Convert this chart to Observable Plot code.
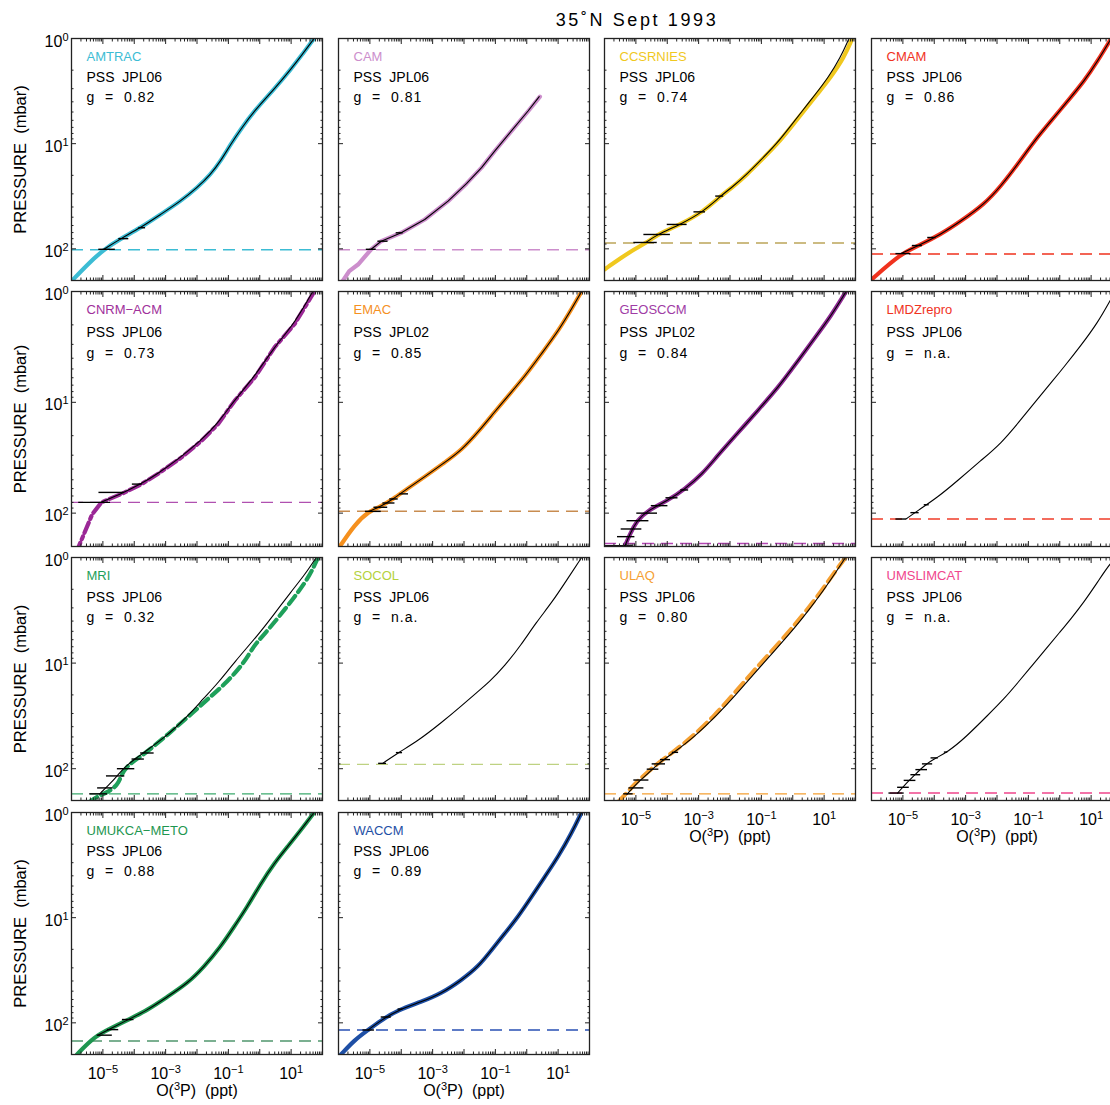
<!DOCTYPE html>
<html><head><meta charset="utf-8">
<script src="https://cdn.jsdelivr.net/npm/d3@7"></script>
<script src="https://cdn.jsdelivr.net/npm/@observablehq/plot@0.6"></script>
<style>
html,body{margin:0;padding:0;background:#fff;overflow:hidden;}
#root{position:relative;width:1110px;height:1105px;overflow:hidden;font-family:"Liberation Sans",Arial,sans-serif;background:#fff;}
#title{position:absolute;left:487px;top:10px;width:300px;text-align:center;font-size:18px;line-height:20px;letter-spacing:2.6px;white-space:nowrap;}
</style></head><body><div id="root"><div id="title">35˚N Sept 1993</div></div>
<script>
// ---------- data: [pressure (mbar), O(3P) (ppt)] ----------
const models = ["AMTRAC","CAM","CCSRNIES","CMAM","CNRM\u2212ACM","EMAC","GEOSCCM","LMDZrepro","MRI","SOCOL","ULAQ","UMSLIMCAT","UMUKCA\u2212METO","WACCM"];
const jplLabels = ["PSS  JPL06","PSS  JPL06","PSS  JPL06","PSS  JPL06","PSS  JPL06","PSS  JPL02","PSS  JPL02","PSS  JPL06","PSS  JPL06","PSS  JPL06","PSS  JPL06","PSS  JPL06","PSS  JPL06","PSS  JPL06"];
const gLabels = ["0.82","0.81","0.74","0.86","0.73","0.85","0.84","n.a.","0.32","n.a.","0.80","n.a.","0.88","0.89"];
const tropopause = [102,102,88,112,80,96,188,113,173,91,173,170,149,117];
const nameColors = ["#3cbcd4","#cc8ecc","#f0c81e","#f0321e","#a0309b","#f5901e","#a03ca5","#f0321e","#1ea05a","#b4d23c","#f5a032","#f0468c","#1e9650","#1e4fa5"];
const lineColors = ["#3cbcd4","#cc8ecc","#f0c81e","#f0321e","#9b2896","#f5901e","#8c2891",null,"#1ea05a",null,"#f5a032",null,"#1e9650","#1e4fa5"];
const tropColors = ["#3cbcd4","#cc8ecc","#bca55a","#f0321e","#b050b0","#c88c50","#b446b4","#f03c28","#3caa6e","#bed282","#f5a032","#f0468c","#50966e","#2850b4"];

const AMTRAC_model = [[1,54],[1.41,23],[1.96,9.8],[3.04,2.86],[4.89,0.66],[7.3,0.248],[10.1,0.119],[14.6,0.057],[19.6,0.0273],[26.2,0.0102],[35.2,0.003],[47.1,6.9e-4],[63,1.6e-4],[80,3.7e-5],[101,1.08e-5],[141,3.2e-6],[200,1.05e-6]];
const AMTRAC_pss = [[1,54],[1.41,23],[1.96,9.8],[3.04,2.86],[4.89,0.66],[7.3,0.248],[10.1,0.119],[14.6,0.057],[19.6,0.0273],[26.2,0.0102],[35.2,0.003],[47.1,6.9e-4],[63,1.6e-4],[80,3.7e-5],[101,1.08e-5]];
const AMTRAC_err = [[101,7.4e-6,2.5e-5],[80,3.2e-5,6.7e-5],[63,1.4e-4,2.3e-4]];

const CAM_model = [[3.57,2.63],[4.89,1.12],[7.57,0.329],[11.7,0.0964],[16.9,0.0363],[24,0.012],[35.2,0.00311],[52.6,5.6e-4],[70.4,1.0e-4],[84.6,2.3e-5],[101,1.1e-5],[141,4.2e-6],[163,2.2e-6],[200,1.4e-6]];
const CAM_pss = [[3.57,2.5],[4.89,1.1],[7.57,0.325],[11.7,0.0964],[16.9,0.0363],[24,0.012],[35.2,0.00311],[52.6,5.6e-4],[70.4,1.0e-4],[84.6,2.3e-5],[101,1.1e-5]];
const CAM_err = [[101,7.7e-6,1.6e-5],[84.6,1.8e-5,3.8e-5],[70.4,6.9e-5,1.15e-4]];

const CCSRNIES_model = [[1,79],[1.52,43],[2.35,16],[3.39,6.0],[4.89,2.26],[7.04,0.85],[10.1,0.32],[14.6,0.094],[19.6,0.035],[25.3,0.0133],[31.5,0.005],[43.8,0.00148],[58.6,2.65e-4],[73,4.8e-5],[87,2.3e-5],[105,6.8e-6],[157,1e-6]];
const CCSRNIES_pss = [[1,62],[1.52,33],[2.35,13.5],[3.39,5.3],[4.89,2.0],[7.04,0.78],[10.1,0.3],[14.6,0.09],[19.6,0.034],[25.3,0.013],[31.5,0.005],[43.8,0.00148],[58.6,2.65e-4],[73,4.8e-5],[87,2.1e-5]];
const CCSRNIES_err = [[87,8.6e-6,4.8e-5],[73,1.8e-5,1.26e-4],[58.6,1e-4,4.3e-4],[44.5,7.1e-4,1.66e-3],[31.5,3.5e-3,6.3e-3]];

const CMAM_model = [[1,43.5],[1.63,16.3],[2.53,6.1],[3.92,1.8],[6.08,0.53],[9.4,0.155],[15.7,0.0457],[25.3,0.0134],[37.8,0.0039],[54.5,7.1e-4],[73,1.6e-4],[94,3.0e-5],[111,8.7e-6],[196,1.0e-6]];
const CMAM_pss = [[1,43.5],[1.63,16.3],[2.53,6.1],[3.92,1.8],[6.08,0.53],[9.4,0.155],[15.7,0.0457],[25.3,0.0134],[37.8,0.0039],[54.5,7.1e-4],[73,1.6e-4],[94,3.0e-5],[111,8.7e-6]];
const CMAM_err = [[111,6e-6,1.8e-5],[93,2e-5,4.2e-5],[78,6.2e-5,1.13e-4]];

const CNRM_model = [[1,55],[1.96,13],[3.18,3.0],[5.94,0.7],[9.66,0.16],[15.7,0.047],[22.2,0.014],[31.4,0.0032],[44.4,5.6e-4],[54.7,1.7e-4],[65,5.0e-5],[80,9e-6],[102,4.6e-6],[200,1.7e-6]];
const CNRM_pss = [[1.01,48],[1.96,12.5],[3.18,2.86],[5.94,0.66],[9.66,0.151],[15.7,0.0446],[22.2,0.0131],[31.4,0.003],[44.4,5.4e-4],[54.7,1.6e-4],[65,4.7e-5],[80,8.5e-6]];
const CNRM_err = [[80,1.7e-6,1.76e-5],[65,7.5e-6,4.9e-5],[54.7,8.7e-5,1.8e-4]];

const EMAC_model = [[1,56],[1.37,29.6],[2.22,10.7],[3.62,3.0],[5.89,0.85],[8.93,0.238],[12.6,0.0864],[17.9,0.0313],[27.2,0.0082],[34.7,0.00248],[47.4,5.4e-4],[60.4,1.52e-4],[74.5,5.5e-5],[88.5,2.0e-5],[96.4,9.3e-6],[125,3.4e-6],[200,1.1e-6]];
const EMAC_pss = [[1,56],[1.37,29.6],[2.22,10.7],[3.62,3.0],[5.89,0.85],[8.93,0.238],[12.6,0.0864],[17.9,0.0313],[27.2,0.0082],[34.7,0.00248],[47.4,5.4e-4],[60.4,1.52e-4],[74.5,5.5e-5],[88.5,2.0e-5],[96.4,9.3e-6]];
const EMAC_err = [[96.4,7.2e-6,2.3e-5],[88.5,1.35e-5,3.7e-5],[81,2.6e-5,6.3e-5],[74.5,4.3e-5,8e-5],[67,9.1e-5,1.7e-4]];

const GEOSCCM_model = [[1,50],[1.68,16.2],[2.74,4.5],[4.46,1.27],[7.25,0.355],[11.8,0.078],[19.2,0.0169],[31.2,0.00367],[44.2,0.00133],[60.4,3.7e-4],[77,1.05e-4],[95,2.3e-5],[117,1.07e-5],[155,6.4e-6],[200,4.4e-6]];
const GEOSCCM_pss = [[1,50],[1.68,16.2],[2.74,4.5],[4.46,1.27],[7.25,0.355],[11.8,0.078],[19.2,0.0169],[31.2,0.00367],[44.2,0.00133],[60.4,3.7e-4],[77,1.05e-4],[95,2.3e-5],[117,1.07e-5],[155,6.4e-6],[200,4.4e-6]];
const GEOSCCM_err = [[197,1.08e-6,8.3e-6],[163,2.6e-6,9.3e-6],[139,3.4e-6,1.55e-5],[117,5.2e-6,2.6e-5],[100,1.07e-5,4.9e-5],[85.6,3.1e-5,1.05e-4],[72.7,9.1e-5,2.2e-4],[61.8,2.7e-4,4.8e-4]];

const LMDZ_pss = [[1,58.7],[1.17,43],[1.91,16.3],[3.12,4.55],[4.74,1.41],[6.27,0.63],[9.5,0.187],[14.5,0.056],[23.6,0.0134],[33.4,0.0031],[50.8,5.6e-4],[72,1.28e-4],[95,2.95e-5],[113,1.26e-5]];
const LMDZ_err = [[113,6e-6,1.3e-5],[99,1.8e-5,3.3e-5],[84,4.8e-5,6.9e-5]];

const MRI_model = [[1,72],[1.47,40],[2.12,17],[3.53,4.5],[5.47,1.3],[6.82,0.65],[9.8,0.33],[15.2,0.09],[21.9,0.022],[29.3,0.0075],[40.8,0.0021],[50.7,9e-4],[65.5,3.2e-4],[78.6,1.4e-4],[95.6,5.5e-5],[117,3.8e-5],[141,3.0e-5],[165,1.6e-5],[185,6e-6],[210,3.5e-6]];
const MRI_pss = [[1,63],[1.47,26.6],[2.12,9.8],[3.53,2.69],[5.47,0.857],[9.8,0.155],[15.2,0.049],[21.9,0.0155],[29.3,0.0066],[40.8,0.0021],[50.7,8.9e-4],[65.5,2.8e-4],[78.6,1.2e-4],[95.6,5.1e-5],[117,2.85e-5],[141,1.6e-5],[173,7.9e-6]];
const MRI_err = [[173,3.8e-6,1.4e-5],[152,6.8e-6,2.1e-5],[117,1.3e-5,5e-5],[100,2.9e-5,1.04e-4],[81,8.5e-5,2.1e-4],[71,1.6e-4,4.3e-4]];

const SOCOL_pss = [[1,56],[1.58,20.4],[2.64,6.5],[4.09,2.03],[6.82,0.64],[10.6,0.2],[15.2,0.063],[18.9,0.026],[25.4,0.0083],[36.5,0.00195],[54.6,3.4e-4],[70.4,8.1e-5],[89,2.57e-5]];
const SOCOL_err = [[89,1.9e-5,3.4e-5],[70.4,7e-5,1.1e-4]];

const ULAQ_model = [[1,48],[1.42,20],[2.05,8.5],[3.17,2.8],[4.56,1.0],[6.57,0.35],[10.2,0.09],[13.6,0.038],[19.7,0.013],[30.4,0.0036],[50.7,6.0e-4],[70.4,1.45e-4],[91,4.5e-5],[113,2.0e-5],[136,1.0e-5],[157,6.5e-6],[203,2.9e-6]];
const ULAQ_pss = [[1,48],[1.42,22.1],[2.05,9.5],[3.17,3.2],[4.56,1.2],[6.57,0.414],[10.2,0.11],[13.6,0.047],[19.7,0.016],[30.4,0.0042],[50.7,7.0e-4],[70.4,1.6e-4],[91,4.8e-5],[113,2.3e-5],[136,1.1e-5],[175,5.2e-6]];
const ULAQ_err = [[173,4.1e-6,8.2e-6],[152,6e-6,1.8e-5],[128,8.6e-6,2.6e-5],[101,2.3e-5,5.4e-5],[90,3.3e-5,8.8e-5],[82,6.1e-5,1.27e-4],[70,1.45e-4,2.3e-4]];

const UMSLIMCAT_pss = [[1,70],[1.1,43],[1.7,16.3],[2.63,5.96],[3.79,2.3],[5.07,1.02],[7.3,0.369],[10.5,0.133],[15.1,0.048],[21.7,0.0171],[31.3,0.005],[50.2,0.00102],[69.6,2.67e-4],[80.5,1.0e-4],[93,4.8e-5],[116,2.3e-5],[144,1.1e-5],[170,6.8e-6]];
const UMSLIMCAT_err = [[170,3.6e-6,1.1e-5],[150,6.8e-6,1.6e-5],[129,1.1e-5,2.6e-5],[114,1.8e-5,3.7e-5],[102,2.6e-5,6.1e-5],[90,4.2e-5,8.9e-5],[79,7.9e-5,1.35e-4],[69.6,2.1e-4,2.7e-4]];

const UMUKCA_model = [[1,54],[1.47,20.4],[2.12,7.6],[3.05,2.87],[4.73,1.08],[7.89,0.40],[12.2,0.152],[18.9,0.057],[29.4,0.0167],[42.3,0.0049],[56.6,0.00113],[75.8,2.6e-4],[91,7.6e-5],[113,1.76e-5],[136,5.2e-6],[200,1.5e-6]];
const UMUKCA_pss = [[1,54],[1.47,20.4],[2.12,7.6],[3.05,2.87],[4.73,1.08],[7.89,0.40],[12.2,0.152],[18.9,0.057],[29.4,0.0167],[42.3,0.0049],[56.6,0.00113],[75.8,2.6e-4],[91,7.6e-5],[113,1.76e-5],[131,7e-6]];
const UMUKCA_err = [[131,6.6e-6,2.0e-5],[116,1.4e-5,3.2e-5],[93,4.2e-5,9.8e-5]];

const WACCM_model = [[1,55.6],[1.58,26.7],[2.64,10],[4.09,3.75],[6.34,1.41],[9.8,0.53],[14.1,0.2],[20.4,0.0745],[29.4,0.028],[39.3,0.0082],[52.6,0.0019],[63.1,4.4e-4],[75.8,7.8e-5],[94.3,2.3e-5],[117,8.7e-6],[146,3.2e-6],[200,1.2e-6]];
const WACCM_pss = [[1,55.6],[1.58,26.7],[2.64,10],[4.09,3.75],[6.34,1.41],[9.8,0.53],[14.1,0.2],[20.4,0.0745],[29.4,0.028],[39.3,0.0082],[52.6,0.0019],[63.1,4.4e-4],[75.8,7.8e-5],[94.3,2.3e-5],[117,8.7e-6]];
const WACCM_err = [[117,6e-6,1.4e-5],[88,2.3e-5,4.8e-5],[74,7.9e-5,1.13e-4]];

const modelData = [AMTRAC_model,CAM_model,CCSRNIES_model,CMAM_model,CNRM_model,EMAC_model,GEOSCCM_model,null,MRI_model,null,ULAQ_model,null,UMUKCA_model,WACCM_model];
const pssData = [AMTRAC_pss,CAM_pss,CCSRNIES_pss,CMAM_pss,CNRM_pss,EMAC_pss,GEOSCCM_pss,LMDZ_pss,MRI_pss,SOCOL_pss,ULAQ_pss,UMSLIMCAT_pss,UMUKCA_pss,WACCM_pss];
const errData = [AMTRAC_err,CAM_err,CCSRNIES_err,CMAM_err,CNRM_err,EMAC_err,GEOSCCM_err,LMDZ_err,MRI_err,SOCOL_err,ULAQ_err,UMSLIMCAT_err,UMUKCA_err,WACCM_err];
const modelDash = [null,null,null,null,"11,4,3,4",null,null,null,"10,5",null,"12,6",null,null,null];
const linearModel = [1,4];
const linearPss = [1];

const xMajor = [1e-6,1e-5,1e-4,1e-3,1e-2,1e-1,1,10,100];
const xLabelTicks = [1e-5,1e-3,1e-1,10];
const yMajor = [1,10,100];

// ---------- layout ----------
const W = 251;
const colLeft = [71, 337.5, 604, 871];
const rowTop = [37.5, 291, 557, 812];
const rowH = [242, 255, 243, 242];
const ML = 70, MR = 12, MT = 8, MB = 52;
const font = '"Liberation Sans", Arial, sans-serif';

const xMinor = [];
for (let e = -6; e < 2; e++) for (let k = 2; k <= 9; k++) xMinor.push(k * 10 ** e);
const yMinor = [];
for (let e = 0; e < 3; e++) for (let k = 2; k <= 9; k++) { const v = k * 10 ** e; if (v <= 200) yMinor.push(v); }

const supDigits = "⁰¹²³⁴⁵⁶⁷⁸⁹";
const fmtPow = v => { const e = Math.round(Math.log10(v)); return "10" + String(e).replace(/-/g, "⁻").replace(/\d/g, c => supDigits[+c]); };
const blank = () => "";
const X = d => d[1], Y = d => d[0];

// render unicode superscripts as raised tspans
const supMap = {"⁰":"0","¹":"1","²":"2","³":"3","⁴":"4","⁵":"5","⁶":"6","⁷":"7","⁸":"8","⁹":"9","⁻":"\u2212"};
function fixSup(svg) {
  svg.querySelectorAll("text").forEach(t => {
    const s = t.textContent;
    if (!/[⁰¹²³⁴⁵⁶⁷⁸⁹⁻]/.test(s)) return;
    const runs = [];
    for (const ch of s) {
      const sup = ch in supMap;
      const c = sup ? supMap[ch] : ch;
      if (runs.length && runs[runs.length - 1].sup === sup) runs[runs.length - 1].text += c;
      else runs.push({sup, text: c});
    }
    while (t.firstChild) t.removeChild(t.firstChild);
    for (const r of runs) {
      const ts = document.createElementNS("http://www.w3.org/2000/svg", "tspan");
      ts.textContent = r.text;
      if (r.sup) { ts.setAttribute("font-size", "11px"); ts.setAttribute("dy", "-6"); }
      else if (t.childNodes.length) ts.setAttribute("dy", "6");
      t.appendChild(ts);
    }
  });
}

function panel(i) {
  const row = Math.floor(i / 4), col = i % 4;
  const h = rowH[row];
  const s = h / 242;
  const showY = col === 0;
  const showX = i >= 10;
  const marks = [];
  marks.push(Plot.ruleY([tropopause[i]], {stroke: tropColors[i], strokeWidth: 1.4, strokeDasharray: "12,7"}));
  if (modelData[i]) {
    marks.push(Plot.line(modelData[i], {x: X, y: Y, stroke: lineColors[i], strokeWidth: 4.2,
      strokeDasharray: modelDash[i] || undefined, curve: linearModel.includes(i) ? "linear" : "basis", clip: true}));
  }
  marks.push(Plot.line(pssData[i], {x: X, y: Y, stroke: "#000", strokeWidth: 1.1, curve: linearPss.includes(i) ? "linear" : "basis", clip: true}));
  marks.push(Plot.ruleY(errData[i], {y: d => d[0], x1: d => d[1], x2: d => d[2], stroke: "#000", strokeWidth: 1.4}));
  for (const anchor of ["bottom", "top"]) {
    marks.push(Plot.axisX(xMajor, {anchor, tickSize: -5, tickFormat: blank, stroke: "#222"}));
    marks.push(Plot.axisX(xMinor, {anchor, tickSize: -2.5, tickFormat: blank, stroke: "#222"}));
  }
  for (const anchor of ["left", "right"]) {
    marks.push(Plot.axisY(yMajor, {anchor, tickSize: -5, tickFormat: blank, stroke: "#222"}));
    marks.push(Plot.axisY(yMinor, {anchor, tickSize: -2.5, tickFormat: blank, stroke: "#222"}));
  }
  if (showX) {
    marks.push(Plot.axisX(xLabelTicks, {anchor: "bottom", tickSize: 0, tickPadding: 13, tickFormat: fmtPow, fontSize: 16, label: null}));
    marks.push(Plot.text(["O(³P)  (ppt)"], {frameAnchor: "bottom", dy: 36, fontSize: 16, lineAnchor: "middle"}));
  }
  if (showY) {
    marks.push(Plot.axisY(yMajor, {anchor: "left", tickSize: 0, tickPadding: 3, dy: 3, tickFormat: fmtPow, fontSize: 16, label: null}));
    marks.push(Plot.text(["PRESSURE  (mbar)"], {frameAnchor: "left", rotate: -90, dx: -51, fontSize: 16.5, lineAnchor: "middle", textAnchor: "middle"}));
  }
  marks.push(Plot.frame({stroke: "#222", strokeWidth: 1.3}));
  marks.push(Plot.text([models[i]], {frameAnchor: "top-left", dx: 15, dy: 13 * s, fill: nameColors[i], fontSize: 13, textAnchor: "start", lineAnchor: "top"}));
  marks.push(Plot.text([jplLabels[i]], {frameAnchor: "top-left", dx: 15, dy: 34 * s, fill: "#000", fontSize: 14, textAnchor: "start", lineAnchor: "top"}));
  marks.push(Plot.text(["g  =  " + gLabels[i]], {frameAnchor: "top-left", dx: 15, dy: 54 * s, fill: "#000", fontSize: 14, textAnchor: "start", lineAnchor: "top"}));

  const svg = Plot.plot({
    width: ML + W + MR, height: MT + h + MB,
    marginLeft: ML, marginRight: MR, marginTop: MT, marginBottom: MB,
    x: {type: "log", domain: [1e-6, 1e2], axis: null},
    y: {type: "log", domain: [1, 200], reverse: true, axis: null},
    style: {background: "transparent", fontFamily: font, fontSize: "16px", color: "#000", overflow: "visible"},
    marks
  });
  fixSup(svg);
  svg.querySelectorAll("text").forEach(t => { if (/^g\s/.test(t.textContent)) t.setAttribute("letter-spacing", "1"); });
  svg.style.position = "absolute";
  svg.style.left = (colLeft[col] - ML) + "px";
  svg.style.top = (rowTop[row] - MT) + "px";
  svg.style.maxWidth = "none";
  return svg;
}

const root = document.getElementById("root");
for (let i = 0; i < models.length; i++) root.appendChild(panel(i));
</script></body></html>
